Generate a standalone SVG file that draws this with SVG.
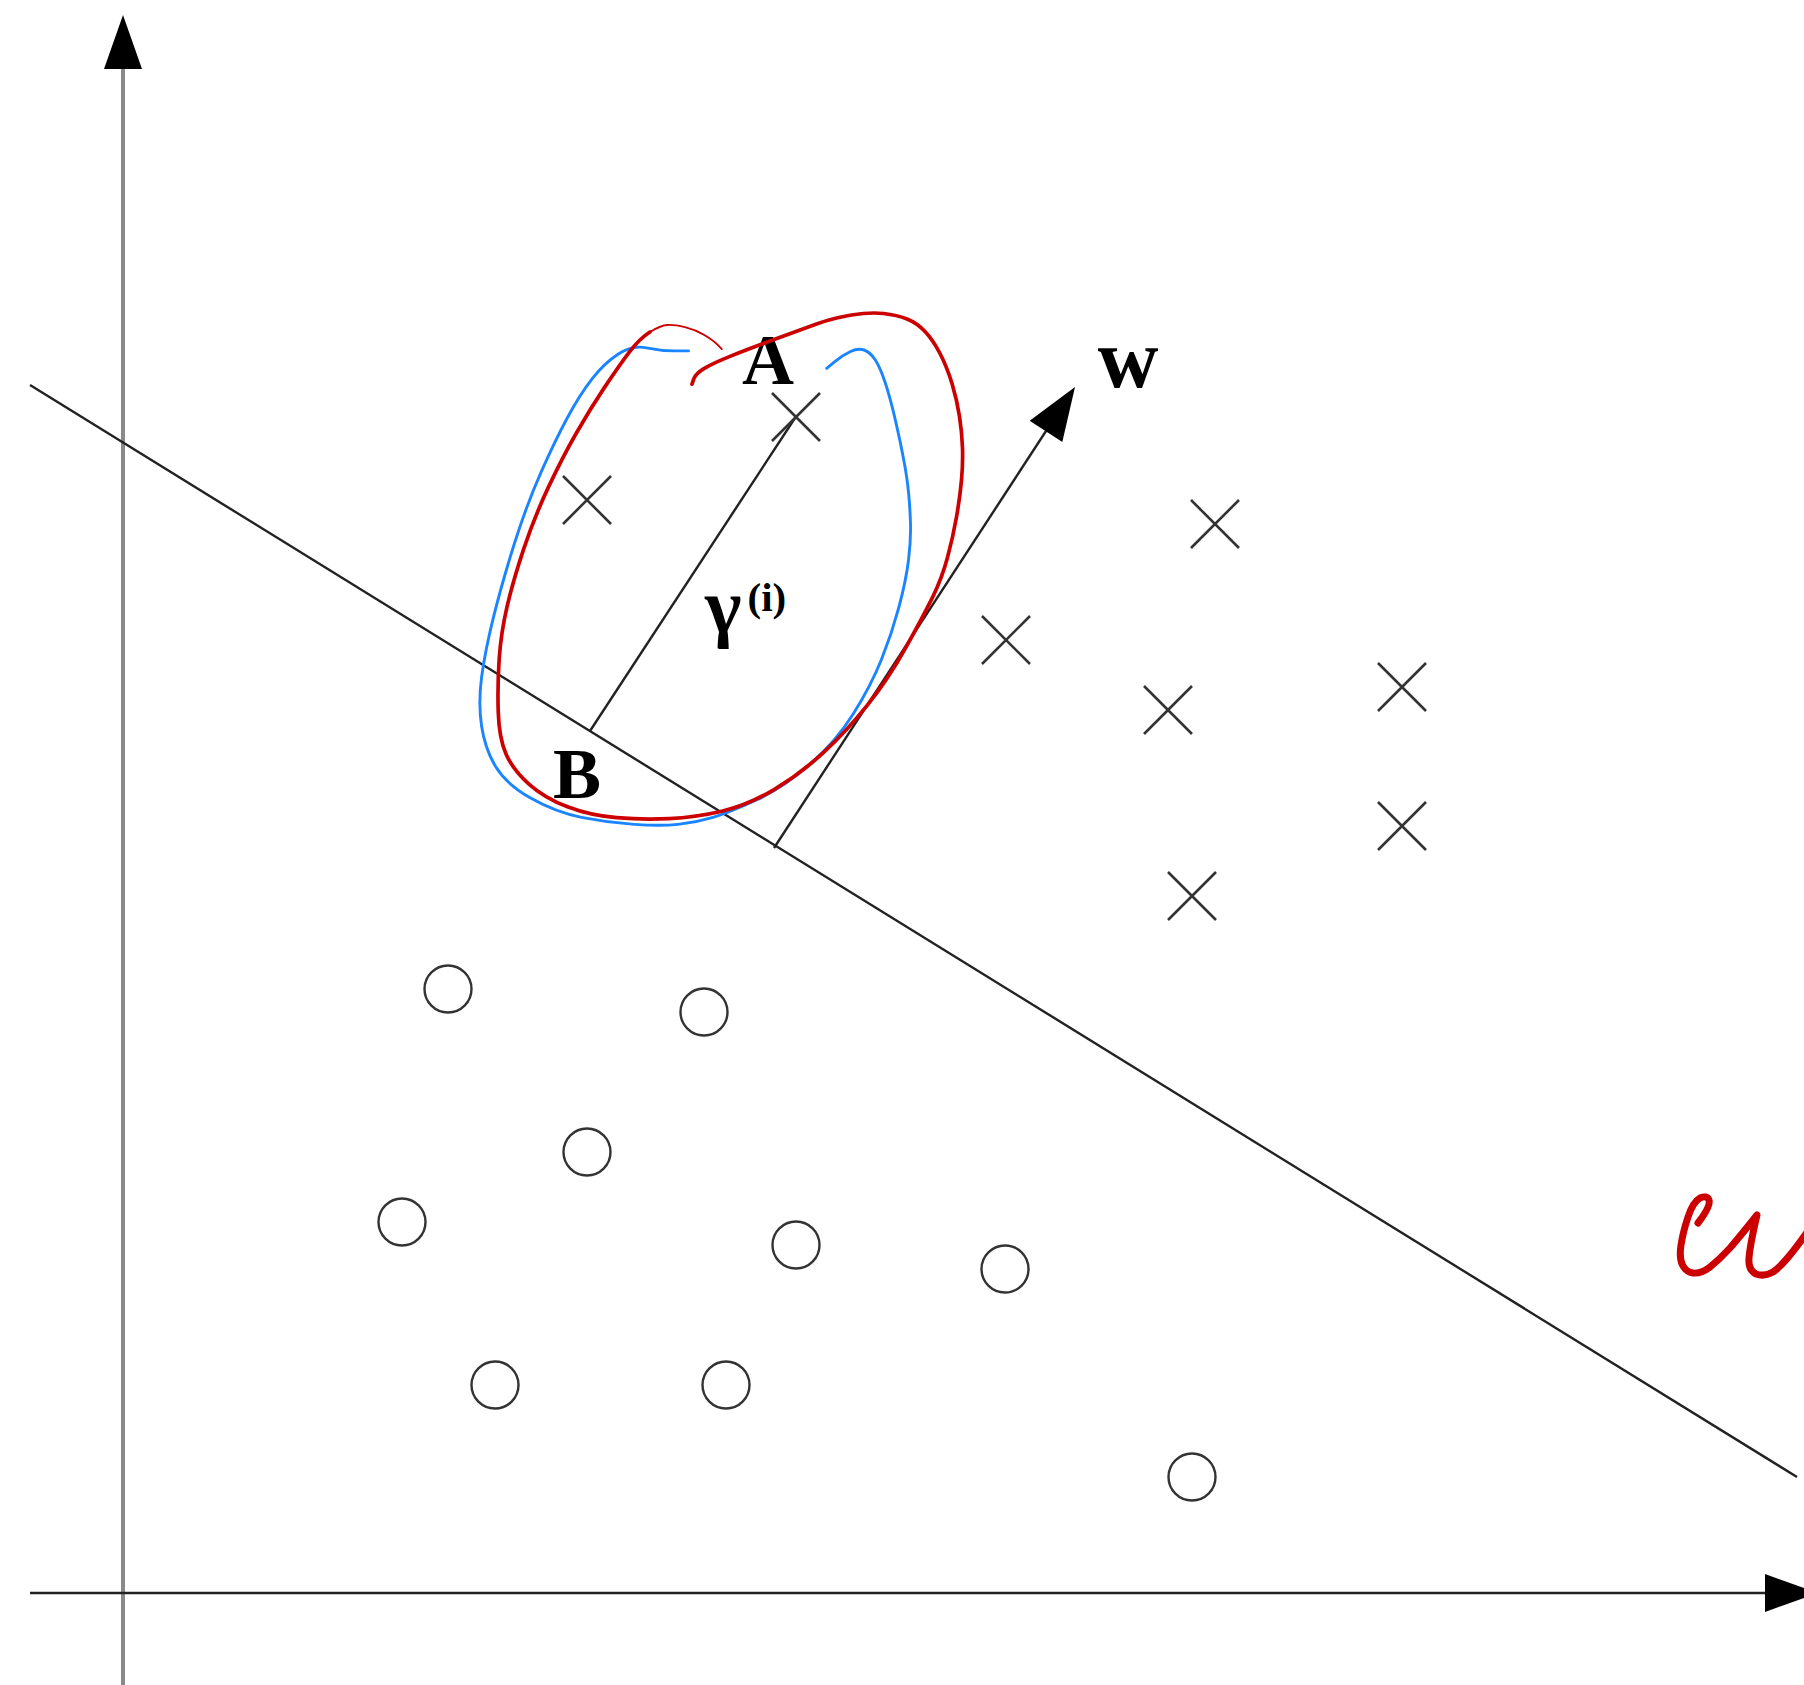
<svg xmlns="http://www.w3.org/2000/svg" width="1804" height="1685" viewBox="0 0 1804 1685">
<style>
.line{stroke:#222;stroke-width:2.4;fill:none}
.vaxis{stroke:#8a8a8a;stroke-width:4;fill:none}
.haxis{stroke:#222;stroke-width:2.6;fill:none}
.xm{stroke:#333;stroke-width:2.6;fill:none}
.circ{stroke:#333;stroke-width:2.4;fill:none}
.head{fill:#000}
.lbl{font-family:"Liberation Serif","Times New Roman",serif;font-weight:bold;fill:#000}
.blue{stroke:#1a85ff;stroke-width:2.9;fill:none;stroke-linecap:round;stroke-linejoin:round}
.red{stroke:#cc0000;stroke-width:3.7;fill:none;stroke-linecap:round;stroke-linejoin:round}
.thin{stroke-width:1.9}
.ink{stroke-width:7}
</style>
<defs>
<path id="xmark" d="M-24,-24 L24,24 M-24,24 L24,-24" class="xm"/>
</defs>
<rect width="1804" height="1685" fill="#fff"/>
<g id="connectors">
<line class="vaxis" x1="123" y1="1685" x2="123" y2="66"/>
<polygon class="head" points="123,15 104,69 142,69"/>
<line class="haxis" x1="30" y1="1593" x2="1768" y2="1593"/>
<polygon class="head" points="1818,1593 1765,1574 1765,1612"/>
<line class="line" x1="30" y1="385" x2="1797" y2="1477"/>
<line class="line" x1="590" y1="731" x2="795" y2="418"/>
<line class="line" x1="774" y1="848" x2="1048" y2="428"/>
<polygon class="head" points="1075,387 1029.7,420.7 1062.3,442.1"/>
</g>
<g id="positives">
<use id="x1" href="#xmark" x="587" y="500"/>
<use id="x2" href="#xmark" x="796" y="417"/>
<use id="x3" href="#xmark" x="1215" y="524"/>
<use id="x4" href="#xmark" x="1006" y="640"/>
<use id="x5" href="#xmark" x="1168" y="710"/>
<use id="x6" href="#xmark" x="1402" y="687"/>
<use id="x7" href="#xmark" x="1402" y="826"/>
<use id="x8" href="#xmark" x="1192" y="896"/>
</g>
<g id="negatives">
<circle id="o1" class="circ" cx="448" cy="989" r="23.5"/>
<circle id="o2" class="circ" cx="704" cy="1012" r="23.5"/>
<circle id="o3" class="circ" cx="587" cy="1152" r="23.5"/>
<circle id="o4" class="circ" cx="402" cy="1222" r="23.5"/>
<circle id="o5" class="circ" cx="796" cy="1245" r="23.5"/>
<circle id="o6" class="circ" cx="1005" cy="1269" r="23.5"/>
<circle id="o7" class="circ" cx="495" cy="1385" r="23.5"/>
<circle id="o8" class="circ" cx="726" cy="1385" r="23.5"/>
<circle id="o9" class="circ" cx="1192" cy="1477" r="23.5"/>
</g>
<g id="labels">
<text id="labelA" class="lbl" x="768" y="384" font-size="72" text-anchor="middle">A</text>
<text id="labelB" class="lbl" x="577" y="798" font-size="72" text-anchor="middle">B</text>
<text id="labelW" class="lbl" x="1128" y="387" font-size="84" text-anchor="middle">w</text>
<text id="labelGamma" class="lbl" x="705" y="632" font-size="78">γ<tspan font-size="41" dy="-21" dx="6">(i)</tspan></text>
</g>
<g id="annotations">
<path id="blueLoop" class="blue" d="M688.5,350.9 L674.5,350.9 Q660.5,350.9 646.45,347.9 Q632.4,344.9 618.35,354 Q604.3,363.1 592.05,378.9 Q579.8,394.7 567.5,417.5 Q555.2,440.3 541.2,471.85 Q527.2,503.4 514.9,542 Q502.6,580.6 493.85,615.7 Q485.1,650.8 481.6,677.1 Q478.1,703.4 481.6,726.2 Q485.1,749 495.6,766.5 Q506.1,784 530.65,798.05 Q555.2,812.1 581.5,817.35 Q607.8,822.6 634.15,824.35 Q660.5,826.1 678,824.35 Q695.5,822.6 713.05,817.35 Q730.6,812.1 756.9,799.8 Q783.2,787.5 809.5,764.7 Q835.8,741.9 853.35,713.85 Q870.9,685.8 881.45,659.5 Q892,633.2 899,606.9 Q906,580.6 908.5,560.3 Q911,540 910.5,523.5 Q910,507 908.5,492 Q907,477 903.5,458.5 Q900,440 895,418.5 Q890,397 885,382 Q880,367 875,359.5 Q870,352 864,350 Q858,348 850.5,351.5 Q843,355 834.85,361.65 L826.7,368.3"/>
<path id="redLoop" class="red" d="M692,384.2 L693.75,378.95 Q695.5,373.7 704.3,368.4 Q713.1,363.1 730.6,356.1 Q748.1,349.1 774.05,339.55 Q800,330 816.5,324 Q833,318 851.5,315 Q870,312 883.5,313.5 Q897,315 907,319 Q917,323 925,331.5 Q933,340 940,353.5 Q947,367 952,383.5 Q957,400 959.5,416.5 Q962,433 962.5,448 Q963,463 961.5,480 Q960,497 956.5,517 Q953,537 947.5,557.5 Q942,578 932.75,596.85 Q923.5,615.7 905.95,647.25 Q888.4,678.8 867.4,705.1 Q846.4,731.4 823.6,752.45 Q800.8,773.5 774.45,789.3 Q748.1,805.1 721.8,811.25 Q695.5,817.4 669.2,818.6 Q642.9,819.8 616.6,817.7 Q590.3,815.6 567.5,806.85 Q544.7,798.1 528.9,784.05 Q513.1,770 506.1,754.2 Q499.1,738.4 498.25,712.1 Q497.4,685.8 499.15,659.5 Q500.9,633.2 507,606.9 Q513.1,580.6 523.65,549.05 Q534.2,517.5 548.2,487.65 Q562.2,457.8 576.25,433.25 Q590.3,408.7 604.35,387.65 Q618.4,366.6 628.9,352.6 Q639.4,338.6 649.95,331.95"/>
<path id="redTail" class="red thin" d="M649.95,331.95 Q660.5,325.3 667.5,324.95 Q674.5,324.6 685,327.2 Q695.5,329.8 704.3,335.05 Q713.1,340.3 717.45,344.7 L721.8,349.1"/>
<path id="redInk" class="red ink" d="M1698,1223 Q1711,1206 1709,1200 Q1707,1195 1700,1198 Q1693,1202 1688,1217 Q1683,1232 1681,1245 Q1679,1258 1682.5,1265 Q1686,1272 1693,1273 Q1701,1274 1710,1267 Q1720,1259 1730,1248 Q1742,1234 1757,1215 Q1750,1245 1749,1258 Q1748,1270 1756,1274 Q1764,1277 1773,1272 Q1785,1264 1808,1231"/>
</g>
</svg>
